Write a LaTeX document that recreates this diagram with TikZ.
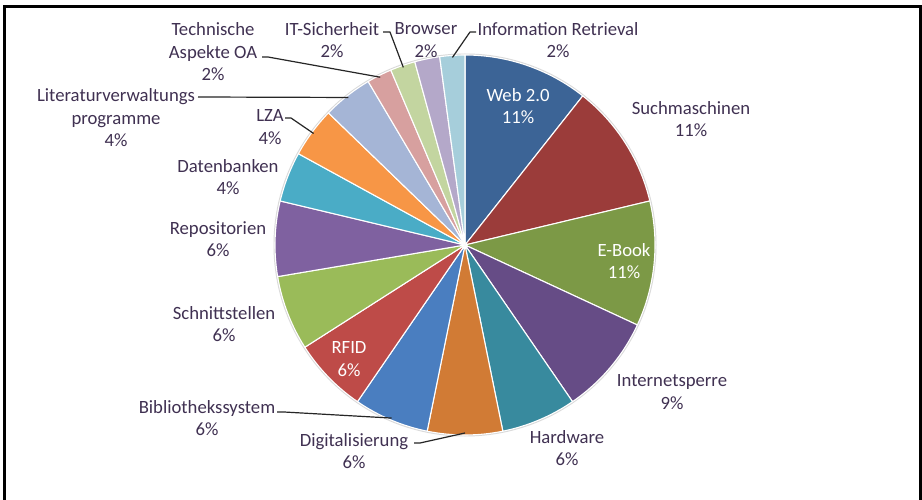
\documentclass[tikz,border=0pt]{standalone}
\usepackage{fontspec}
\setmainfont{Carlito}
\definecolor{txtc}{RGB}{64,49,82}
\definecolor{cWeb}{RGB}{60,100,150}
\definecolor{cSuch}{RGB}{155,60,58}
\definecolor{cEbook}{RGB}{124,153,70}
\definecolor{cInet}{RGB}{102,76,134}
\definecolor{cHard}{RGB}{56,138,158}
\definecolor{cDigi}{RGB}{209,123,53}
\definecolor{cBib}{RGB}{74,126,192}
\definecolor{cRfid}{RGB}{190,75,72}
\definecolor{cSchn}{RGB}{154,187,89}
\definecolor{cRepo}{RGB}{127,97,160}
\definecolor{cDat}{RGB}{74,172,198}
\definecolor{cLza}{RGB}{247,150,70}
\definecolor{cLit}{RGB}{165,181,214}
\definecolor{cTech}{RGB}{215,160,159}
\definecolor{cIT}{RGB}{195,213,160}
\definecolor{cBrow}{RGB}{180,168,201}
\definecolor{cInfo}{RGB}{166,206,219}
\begin{document}
\begin{tikzpicture}[x=1pt,y=1pt,
  lbl/.style={font=\fontsize{18.7}{22.5}\selectfont, text=txtc, align=center, inner sep=0pt},
  inlbl/.style={lbl, text=white},
  leader/.style={draw=black!85, line width=1.2pt, line join=round},
  slicesep/.style={draw=white, line width=1.1pt, line join=round},
  frame/.style={draw=black, line width=2.6pt}]
\useasboundingbox (0,0) rectangle (922,-500);
\fill[white] (0,0) rectangle (922,-500);
% frame
\draw[frame] (4.3,-500) -- (4.3,-6.5) -- (920.5,-6.5) -- (920.5,-500);
% pie
\coordinate (C) at (465,-245);
\def\R{190}
\fill[black!15] (C) circle (191.5);
\foreach \s/\n/\col in {0/5/cWeb, 5/5/cSuch, 10/5/cEbook, 15/4/cInet, 19/3/cHard, 22/3/cDigi, 25/3/cBib, 28/3/cRfid, 31/3/cSchn, 34/3/cRepo, 37/2/cDat, 39/2/cLza, 41/2/cLit, 43/1/cTech, 44/1/cIT, 45/1/cBrow, 46/1/cInfo}{
  \pgfmathsetmacro\aA{90-\s*7.659574}
  \pgfmathsetmacro\aB{90-(\s+\n)*7.659574}
  \filldraw[fill=\col, slicesep] (C) -- ++(\aA:\R) arc[start angle=\aA, end angle=\aB, radius=\R] -- cycle;
}
% labels
\node[inlbl] (web) at (518,-106) {Web 2.0\\11\%};
\node[lbl] (such) at (691,-119) {Suchmaschinen\\11\%};
\node[inlbl] (ebook) at (624,-261) {E-Book\\11\%};
\node[lbl] (inet) at (672,-392) {Internetsperre\\9\%};
\node[lbl] (hard) at (567,-448) {Hardware\\6\%};
\node[lbl] (digi) at (354,-451) {Digitalisierung\\6\%};
\node[lbl] (bib) at (207,-418) {Bibliothekssystem\\6\%};
\node[inlbl] (rfid) at (349,-359) {RFID\\6\%};
\node[lbl] (schn) at (224,-324) {Schnittstellen\\6\%};
\node[lbl] (repo) at (218,-239) {Repositorien\\6\%};
\node[lbl] (dat) at (228,-177) {Datenbanken\\4\%};
\node[lbl] (lza) at (270,-127) {LZA\\4\%};
\node[lbl] (lit) at (116,-118) {Literaturverwaltungs\\programme\\4\%};
\node[lbl] (tech) at (213,-52) {Technische\\Aspekte OA\\2\%};
\node[lbl] (it) at (332,-40) {IT-Sicherheit\\2\%};
\node[lbl] (brow) at (426,-40) {Browser\\2\%};
\node[lbl] (info) at (558,-40) {Information Retrieval\\2\%};
% leader end points on the pie edge
\path (C) ++(116.81:188) coordinate (eTech);
\path (C) ++(109.15:188) coordinate (eIT);
\path (C) ++(93.83:188) coordinate (eInfo);
\path (C) ++(128.3:188) coordinate (eLit);
\path (C) ++(143.62:188) coordinate (eLza);
\path (C) ++(-112.98:188) coordinate (eBib);
\path (C) ++(-90:188) coordinate (eDigi);
% leader start points beside the labels
\coordinate (sTech) at (262,-57);
\coordinate (sIT) at (383,-32);
\coordinate (sInfo) at (476,-32);
\coordinate (sLit) at (198,-97);
\coordinate (sLza) at (285,-118);
\coordinate (sBib) at (277,-412);
\coordinate (sDigi) at (414,-443);
\draw[leader] (sTech) -- ++(6,0) -- (eTech);
\draw[leader] (sIT) -- ++(7,0) -- (eIT);
\draw[leader] (sInfo) -- ++(-6,0) -- (eInfo);
\draw[leader] (sLit) -- (eLit);
\draw[leader] (sLza) -- ++(6,0) -- (eLza);
\draw[leader] (sBib) -- ++(7,0) -- (eBib);
\draw[leader] (sDigi) -- ++(6,0) -- (eDigi);
\end{tikzpicture}
\end{document}
